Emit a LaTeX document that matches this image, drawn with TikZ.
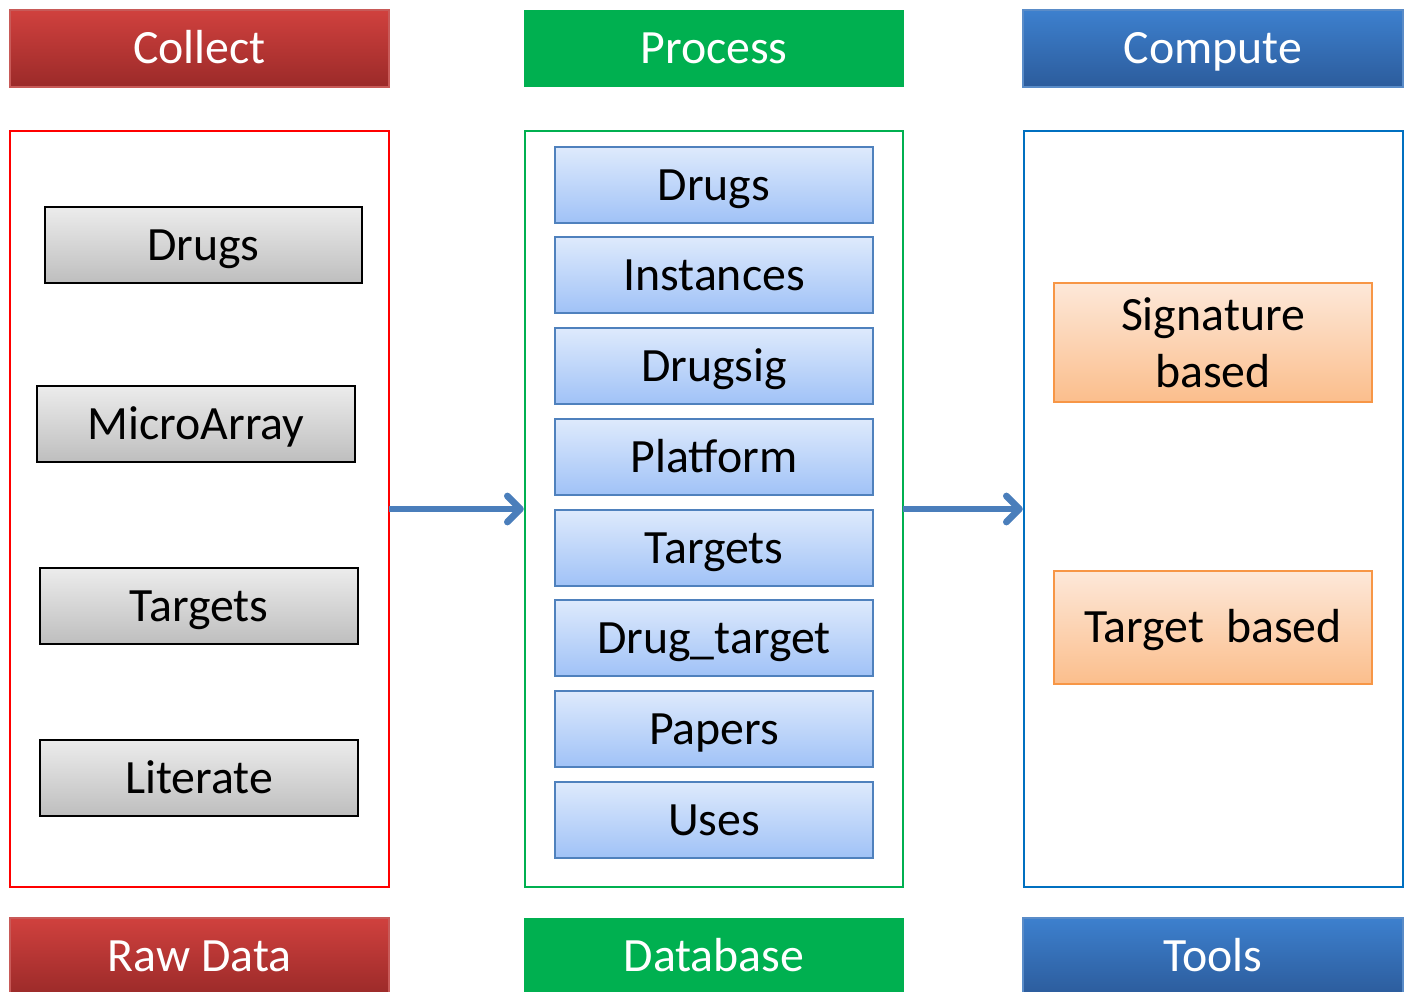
\documentclass[tikz,border=0pt]{standalone}
\usepackage{fontspec}
\setmainfont{Carlito}
\usetikzlibrary{arrows.meta,shadings}
\definecolor{hredT}{RGB}{208,65,62}
\definecolor{hredB}{RGB}{155,42,41}
\definecolor{hredE}{RGB}{200,90,88}
\definecolor{hgreen}{RGB}{0,176,80}
\definecolor{hblueT}{RGB}{61,128,206}
\definecolor{hblueB}{RGB}{44,92,156}
\definecolor{hblueE}{RGB}{90,140,200}
\definecolor{frRed}{RGB}{255,0,0}
\definecolor{frGreen}{RGB}{0,176,80}
\definecolor{frBlue}{RGB}{0,112,192}
\definecolor{grayT}{RGB}{236,236,236}
\definecolor{grayB}{RGB}{190,190,190}
\definecolor{tblT}{RGB}{222,234,252}
\definecolor{tblB}{RGB}{160,194,247}
\definecolor{tblE}{RGB}{79,129,189}
\definecolor{orT}{RGB}{253,232,217}
\definecolor{orB}{RGB}{251,190,140}
\definecolor{orE}{RGB}{247,150,70}
\definecolor{arrC}{RGB}{74,126,187}
\tikzset{
  sz/.style 2 args={minimum width=#1*0.5pt, minimum height=#2*0.5pt, inner sep=0pt, outer sep=0pt},
  txt/.style={font=\fontsize{23.9}{28.5}\selectfont},
  one/.style={text height=15.4pt, text depth=0pt},
  hdr/.style={txt, one, text=white},
  hdrred/.style={hdr, top color=hredT, bottom color=hredB, draw=hredE, line width=0.6pt},
  hdrgreen/.style={hdr, fill=hgreen},
  hdrblue/.style={hdr, top color=hblueT, bottom color=hblueB, draw=hblueE, line width=0.6pt},
  frame/.style={line width=0.8pt, fill=white},
  graybox/.style={txt, one, top color=grayT, bottom color=grayB, draw=black, line width=1pt},
  tblbox/.style={txt, one, top color=tblT, bottom color=tblB, draw=tblE, line width=1.4pt},
  orbox/.style={txt, top color=orT, bottom color=orB, draw=orE, line width=1.2pt, align=center},
  flow/.style={draw=arrC, line width=3.4pt, -{Straight Barb[length=6.5pt, width=13pt, line width=3.4pt, round]}, shorten >=0.6pt}
}
\begin{document}
\begin{tikzpicture}[x=0.5pt, y=-0.5pt]
\useasboundingbox (0,0) rectangle (1408,991);
% headers
\node[hdrred, sz={379}{77}] (collect) at (199.5,48.5) {Collect};
\node[hdrgreen, sz={380}{77}] (process) at (714,48.5) {Process};
\node[hdrblue, sz={380}{77}] (compute) at (1213,48.5) {Compute};
% frames
\node[frame, draw=frRed, sz={379}{756}] (raw) at (199.5,509) {};
\node[frame, draw=frGreen, sz={378}{756}] (db) at (714,509) {};
\node[frame, draw=frBlue, sz={379}{756}] (tools) at (1213.5,509) {};
% footers
\begin{scope}
\clip (0,0) rectangle (1408,991);
\node[hdrred, sz={379}{77}] (rawlbl) at (199.5,956.5) {Raw Data};
\node[hdrgreen, sz={380}{77}] (dblbl) at (714,956.5) {Database};
\node[hdrblue, sz={380}{77}] (toolslbl) at (1213,956.5) {Tools};
\end{scope}
% raw data boxes
\node[graybox, sz={317}{76}] (g1) at (203.5,245) {Drugs};
\node[graybox, sz={318}{76}] (g2) at (196,424) {MicroArray};
\node[graybox, sz={318}{76}] (g3) at (199,606) {Targets};
\node[graybox, sz={318}{76}] (g4) at (199,778) {Literate};
% database tables
\node[tblbox, sz={318}{76}] (t1) at (714,185) {Drugs};
\node[tblbox, sz={318}{76}] (t2) at (714,275) {Instances};
\node[tblbox, sz={318}{76}] (t3) at (714,366) {Drugsig};
\node[tblbox, sz={318}{76}] (t4) at (714,457) {Platform};
\node[tblbox, sz={318}{76}] (t5) at (714,548) {Targets};
\node[tblbox, sz={318}{76}] (t6) at (714,638) {Drug\_target};
\node[tblbox, sz={318}{76}] (t7) at (714,729) {Papers};
\node[tblbox, sz={318}{76}] (t8) at (714,820) {Uses};
% tools
\node[orbox, sz={318}{119}] (o1) at (1213,342.5) {Signature\\based};
\node[orbox, one, sz={318}{113}] (o2) at (1213,627.5) {Target\ \ based};
% arrows
\draw[flow] (raw) -- (db);
\draw[flow] (db) -- (tools);
\end{tikzpicture}
\end{document}
